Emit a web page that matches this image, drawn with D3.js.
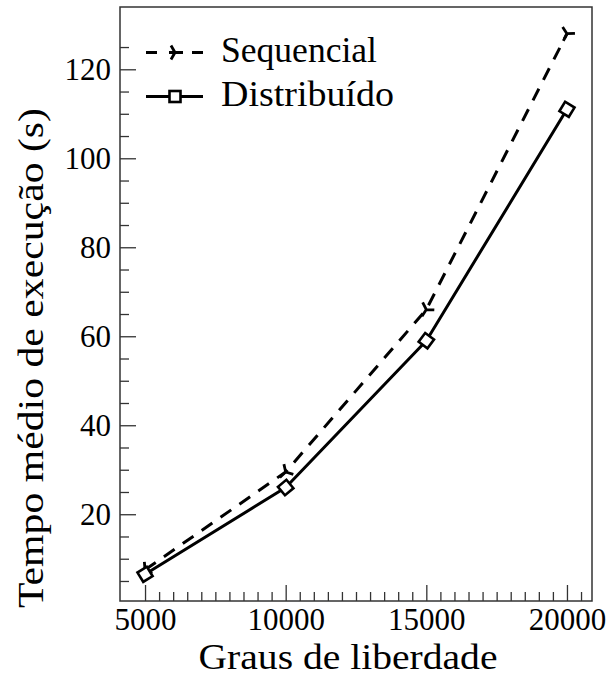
<!DOCTYPE html>
<html>
<head>
<meta charset="utf-8">
<script src="https://cdn.jsdelivr.net/npm/d3@7"></script>
<style>
  html, body { margin: 0; padding: 0; background: #fff; }
  svg { display: block; }
  text { font-family: "Liberation Serif", "DejaVu Serif", serif; fill: #000; }
</style>
</head>
<body>
<svg id="chart" width="607" height="677"></svg>
<script>
// ---- data ----
const grausLiberdade = [5000, 10000, 15000, 20000];
const sequencial = [7.5, 29.5, 66, 128];
const distribuido = [6.5, 26, 59, 111];
const xTickValues = [5000, 10000, 15000, 20000];
const yTickValues = [20, 40, 60, 80, 100, 120];
const seriesNames = ["Sequencial", "Distribuído"];
const xLabel = "Graus de liberdade";
const yLabel = "Tempo médio de execução (s)";

// ---- layout ----
const pL = 120, pR = 592, pT = 7, pB = 601;
const svg = d3.select("#chart");
const x = d3.scaleLinear().domain([4110, 20890]).range([pL, pR]);
const y = d3.scaleLinear().domain([0.5, 134]).range([pB, pT]);
const axisColor = "#333";
const tickFont = 31, labelFont = 36;

// minor ticks
const xMinor = d3.range(5500, 20501, 500).filter(v => v % 5000 !== 0);
const yMinor = d3.range(5, 126, 5).filter(v => v % 20 !== 0);

function styleAxis(g) {
  g.select(".domain").remove();
  g.selectAll(".tick line").attr("stroke", axisColor).attr("stroke-width", 1.3);
  g.selectAll(".tick text").style("font-size", tickFont + "px")
    .style("font-family", '"Liberation Serif", serif').attr("fill", "#000");
}

svg.append("g").attr("transform", `translate(0,${pB})`)
  .call(d3.axisBottom(x).tickValues(xMinor).tickSize(-9).tickFormat(""))
  .call(styleAxis);
svg.append("g").attr("transform", `translate(0,${pB})`)
  .call(d3.axisBottom(x).tickValues(xTickValues).tickSize(-16).tickPadding(7).tickFormat(d3.format("d")))
  .call(styleAxis);
svg.append("g").attr("transform", `translate(${pL},0)`)
  .call(d3.axisLeft(y).tickValues(yMinor).tickSize(-9).tickFormat(""))
  .call(styleAxis);
svg.append("g").attr("transform", `translate(${pL},0)`)
  .call(d3.axisLeft(y).tickValues(yTickValues).tickSize(-16).tickPadding(9).tickFormat(d3.format("d")))
  .call(styleAxis);

// frame
svg.append("rect").attr("x", pL).attr("y", pT)
  .attr("width", pR - pL).attr("height", pB - pT)
  .attr("fill", "none").attr("stroke", axisColor).attr("stroke-width", 1.5);

// axis labels
svg.append("text").attr("x", 348).attr("y", 669).attr("text-anchor", "middle")
  .attr("textLength", 299).attr("lengthAdjust", "spacingAndGlyphs")
  .style("font-size", "35px").text(xLabel);
svg.append("text").attr("transform", `translate(43,358) rotate(-90)`)
  .attr("text-anchor", "middle").attr("textLength", 500).attr("lengthAdjust", "spacingAndGlyphs")
  .style("font-size", labelFont + "px").text(yLabel);

// lines
const line = d3.line().x(d => x(d[0])).y(d => y(d[1]));
const seqPts = grausLiberdade.map((g, i) => [g, sequencial[i]]);
const distPts = grausLiberdade.map((g, i) => [g, distribuido[i]]);

svg.append("path").datum(seqPts).attr("d", line)
  .attr("fill", "none").attr("stroke", "#000").attr("stroke-width", 3)
  .attr("stroke-dasharray", "13,10");
svg.append("path").datum(distPts).attr("d", line)
  .attr("fill", "none").attr("stroke", "#000").attr("stroke-width", 3)
  .attr("stroke-linejoin", "round");

// tangent angle (svg rotation, degrees) at each point
function tangents(pts) {
  return pts.map((p, i) => {
    const a = pts[Math.max(0, i - 1)], b = pts[Math.min(pts.length - 1, i + 1)];
    const dx = x(b[0]) - x(a[0]), dy = y(b[1]) - y(a[1]);
    return Math.atan2(dy, dx) * 180 / Math.PI;
  });
}

function triPath(r) {
  return [0, 120, 240].map(a => {
    const t = a * Math.PI / 180;
    return `M0,0L${(r * Math.cos(t)).toFixed(2)},${(r * Math.sin(t)).toFixed(2)}`;
  }).join("");
}

const seqAng = tangents(seqPts);
svg.append("g").selectAll("path").data(seqPts).join("path")
  .attr("transform", (d, i) => `translate(${x(d[0])},${y(d[1])}) rotate(${seqAng[i] + 60})`)
  .attr("d", triPath(8)).attr("fill", "none").attr("stroke", "#000")
  .attr("stroke-width", 2.8).attr("stroke-linecap", "butt");

const distAng = tangents(distPts);
const sq = 11;
svg.append("g").selectAll("rect").data(distPts).join("rect")
  .attr("transform", (d, i) => `translate(${x(d[0])},${y(d[1])}) rotate(${distAng[i]})`)
  .attr("x", -sq / 2).attr("y", -sq / 2).attr("width", sq).attr("height", sq)
  .attr("fill", "#fff").attr("stroke", "#000").attr("stroke-width", 2.6);

// legend
const legend = svg.append("g");
const legY = [52.5, 96.5];
legend.append("line").attr("x1", 146).attr("x2", 203).attr("y1", legY[0]).attr("y2", legY[0])
  .attr("stroke", "#000").attr("stroke-width", 3).attr("stroke-dasharray", "11,12");
legend.append("path").attr("transform", `translate(175,${legY[0]}) rotate(0)`)
  .attr("d", triPath(8)).attr("fill", "none").attr("stroke", "#000").attr("stroke-width", 2.8);
legend.append("line").attr("x1", 146).attr("x2", 203).attr("y1", legY[1]).attr("y2", legY[1])
  .attr("stroke", "#000").attr("stroke-width", 3);
legend.append("rect").attr("x", 175 - sq / 2).attr("y", legY[1] - sq / 2)
  .attr("width", sq).attr("height", sq).attr("fill", "#fff").attr("stroke", "#000").attr("stroke-width", 2.6);
const legLen = [156, 173];
seriesNames.forEach((n, i) => {
  legend.append("text").attr("x", 221).attr("y", legY[i] + 9)
    .attr("textLength", legLen[i]).attr("lengthAdjust", "spacingAndGlyphs")
    .style("font-size", "35px").text(n);
});
</script>
</body>
</html>
